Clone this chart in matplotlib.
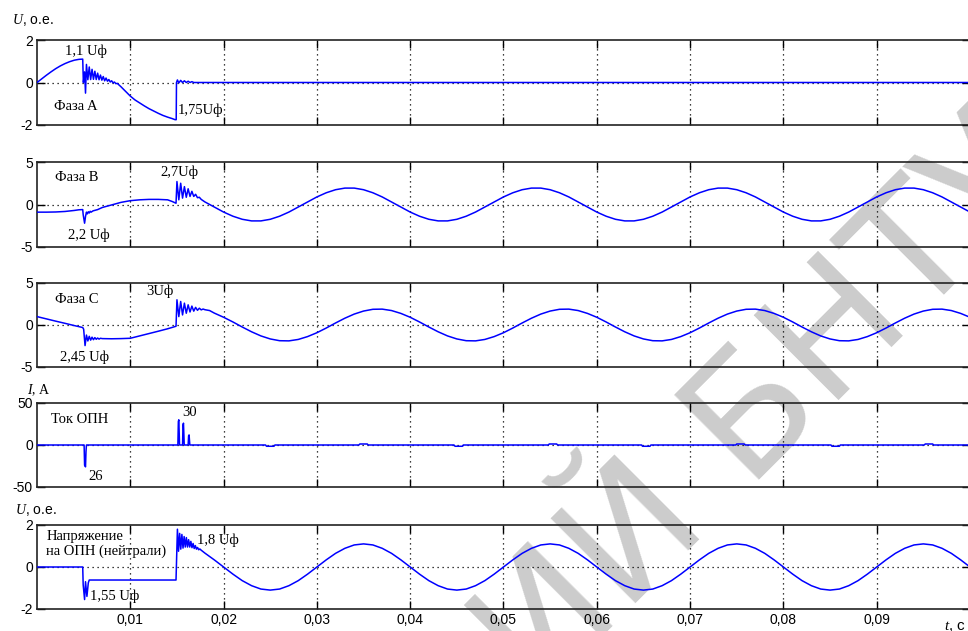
import numpy as np
import matplotlib.pyplot as plt

plt.rcParams['font.family'] = ['Liberation Sans', 'DejaVu Sans']
plt.rcParams['axes.unicode_minus'] = False
plt.rcParams['mathtext.fontset'] = 'custom'
plt.rcParams['mathtext.it'] = 'Liberation Serif:italic'
plt.rcParams['mathtext.rm'] = 'Liberation Serif'

SERIF = ['Liberation Serif', 'DejaVu Serif']
BLUE = '#0000ff'

# --- фаза A: до замыкания, перенапряжение и обрыв ---
A_T = [0, 0.0005, 0.001, 0.0015, 0.002, 0.0025, 0.003, 0.0035, 0.004, 0.0045, 0.0049,
       0.00497, 0.0051, 0.0052,
       0.0053, 0.00545, 0.0056, 0.00575, 0.0059, 0.00605, 0.0062, 0.00635, 0.0065, 0.00665,
       0.0068, 0.00695, 0.0071, 0.00725, 0.0074, 0.00755, 0.0077, 0.00785, 0.008, 0.00815,
       0.0083, 0.00845, 0.0086, 0.00875,
       0.009, 0.0095, 0.010, 0.0105, 0.011, 0.0115, 0.012, 0.0125, 0.013, 0.0135, 0.014,
       0.0145, 0.0148, 0.01492, 0.01495, 0.01505, 0.0152, 0.0154, 0.0156, 0.0158, 0.016,
       0.0162, 0.0164, 0.0166, 0.0168, 0.1]
A_V = [0, 0.17, 0.34, 0.50, 0.65, 0.78, 0.89, 0.98, 1.05, 1.09, 1.1,
       0.0, 0.5, -0.5,
       0.85, 0.13, 0.73, 0.14, 0.62, 0.15, 0.53, 0.14, 0.44, 0.13,
       0.35, 0.11, 0.28, 0.08, 0.21, 0.06, 0.14, 0.025, 0.08, -0.015,
       0.02, -0.055, -0.04, -0.10,
       -0.2, -0.42, -0.64, -0.82, -0.96, -1.1, -1.23, -1.34, -1.45, -1.55, -1.63,
       -1.70, -1.75, -1.75, 0.0, 0.12, -0.02, 0.1, 0.0, 0.08, 0.0,
       0.06, 0.0, 0.04, 0.0, 0.0]

# --- фаза B ---
B_T = [0, 0.001, 0.002, 0.003, 0.004, 0.0045, 0.0049,
       0.00495, 0.0051, 0.0052, 0.0053, 0.0054, 0.0055, 0.0056, 0.0057, 0.0058, 0.006,
       0.0065, 0.007, 0.0075, 0.008, 0.0085, 0.009, 0.0095, 0.010,
       0.011, 0.012, 0.013, 0.014, 0.0145, 0.0149,
       0.0150, 0.0152, 0.0154, 0.0156, 0.0158, 0.0160, 0.0162, 0.0164, 0.0166, 0.0168,
       0.0170, 0.0172, 0.0174, 0.0176, 0.0178, 0.0180, 0.0185]
B_V = [-0.9, -0.9, -0.88, -0.82, -0.7, -0.62, -0.6,
       -1.2, -2.2, -1.4, -0.9, -1.1, -0.85, -1.0, -0.8, -0.9, -0.75,
       -0.6, -0.35, -0.2, -0.05, 0.1, 0.25, 0.35, 0.45,
       0.55, 0.6, 0.6, 0.55, 0.35, 0.15,
       2.7, 0.55, 2.5, 0.75, 2.1, 0.85, 1.85, 0.95, 1.55, 0.95,
       1.2, 0.8, 0.85, 0.6, 0.45, 0.3, 0.0]
# установившийся режим, шаг 1 мс от 0,019 с
B_STEADY = [-0.30, -0.89, -1.38, -1.74, -1.93, -1.93, -1.74, -1.38, -0.89, -0.30,
            0.30, 0.89, 1.38, 1.74, 1.93, 1.93, 1.74, 1.38, 0.89, 0.30,
            -0.30, -0.89, -1.38, -1.74, -1.93, -1.93, -1.74, -1.38, -0.89, -0.30,
            0.30, 0.89, 1.38, 1.74, 1.93, 1.93, 1.74, 1.38, 0.89, 0.30,
            -0.30, -0.89, -1.38, -1.74, -1.93, -1.93, -1.74, -1.38, -0.89, -0.30,
            0.30, 0.89, 1.38, 1.74, 1.93, 1.93, 1.74, 1.38, 0.89, 0.30,
            -0.30, -0.89, -1.38, -1.74, -1.93, -1.93, -1.74, -1.38, -0.89, -0.30,
            0.30, 0.89, 1.38, 1.74, 1.93, 1.93, 1.74, 1.38, 0.89, 0.30,
            -0.30, -0.89]

# --- фаза C ---
C_T = [0, 0.001, 0.002, 0.003, 0.004, 0.0049,
       0.0050, 0.00515, 0.0053, 0.00545, 0.0056, 0.00575, 0.0059, 0.00605, 0.0062, 0.00635,
       0.0065, 0.00665, 0.0068,
       0.007, 0.008, 0.009, 0.010, 0.011, 0.012, 0.013, 0.014, 0.0149,
       0.0150, 0.0152, 0.0154, 0.0156, 0.0158, 0.0160, 0.0162, 0.0164, 0.0166, 0.0168,
       0.0170, 0.0172, 0.0174, 0.0176, 0.0178, 0.0180, 0.0185, 0.019]
C_V = [1.0, 0.73, 0.46, 0.2, -0.07, -0.3,
       -0.5, -2.45, -1.2, -1.9, -1.35, -1.8, -1.45, -1.75, -1.5, -1.7,
       -1.55, -1.68, -1.58,
       -1.62, -1.64, -1.62, -1.58, -1.3, -1.02, -0.74, -0.45, -0.15,
       3.0, 1.0, 2.8, 1.2, 2.6, 1.4, 2.4, 1.55, 2.25, 1.65,
       2.1, 1.75, 2.0, 1.8, 1.9, 1.82, 1.72, 1.42]
# установившийся режим, шаг 1 мс от 0,020 с
C_STEADY = [0.92, 0.36, -0.24, -0.81, -1.30, -1.66, -1.87, -1.89, -1.72, -1.38,
            -0.92, -0.36, 0.24, 0.81, 1.30, 1.66, 1.87, 1.89, 1.72, 1.38,
            0.92, 0.36, -0.24, -0.81, -1.30, -1.66, -1.87, -1.89, -1.72, -1.38,
            -0.92, -0.36, 0.24, 0.81, 1.30, 1.66, 1.87, 1.89, 1.72, 1.38,
            0.92, 0.36, -0.24, -0.81, -1.30, -1.66, -1.87, -1.89, -1.72, -1.38,
            -0.92, -0.36, 0.24, 0.81, 1.30, 1.66, 1.87, 1.89, 1.72, 1.38,
            0.92, 0.36, -0.24, -0.81, -1.30, -1.66, -1.87, -1.89, -1.72, -1.38,
            -0.92, -0.36, 0.24, 0.81, 1.30, 1.66, 1.87, 1.89, 1.72, 1.38,
            0.92]

# --- ток ОПН, А ---
I_T = [0, 0.00505, 0.0051, 0.0052, 0.00525, 0.0053,
       0.0151, 0.01515, 0.0152, 0.01528, 0.0156, 0.01565, 0.0157, 0.01578,
       0.0162, 0.01625, 0.0163, 0.01638,
       0.0245, 0.0246, 0.0254, 0.0255,
       0.0345, 0.0346, 0.0354, 0.0355,
       0.0447, 0.0448, 0.0456, 0.0457,
       0.0548, 0.0549, 0.0557, 0.0558,
       0.0648, 0.0649, 0.0657, 0.0658,
       0.0749, 0.0750, 0.0758, 0.0759,
       0.0851, 0.0852, 0.0860, 0.0861,
       0.0951, 0.0952, 0.0960, 0.0961, 0.1]
I_V = [0, 0, -24, -26, -8, 0,
       0, 28, 30, 0, 0, 24, 26, 0,
       0, 11, 12, 0,
       0, -1.5, -1.5, 0,
       0, 1.2, 1.2, 0,
       0, -1.5, -1.5, 0,
       0, 1.2, 1.2, 0,
       0, -1.5, -1.5, 0,
       0, 1.2, 1.2, 0,
       0, -1.5, -1.5, 0,
       0, 1.2, 1.2, 0, 0]

# --- напряжение на ОПН в нейтрали ---
N_T = [0, 0.0049, 0.00495, 0.0051, 0.0052, 0.00535, 0.0055, 0.0056, 0.0149,
       0.01505, 0.01517, 0.01529, 0.01541, 0.01553, 0.01565, 0.01577, 0.01589, 0.01601,
       0.01613, 0.01625, 0.01637, 0.01649, 0.01661, 0.01673, 0.01685, 0.01697, 0.01709,
       0.01721, 0.01733, 0.01745, 0.0176, 0.018, 0.019]
N_V = [0, 0, -0.85, -1.55, -0.7, -1.4, -0.75, -0.62, -0.62,
       1.8, 0.75, 1.6, 0.85, 1.55, 0.9, 1.45, 0.95, 1.4,
       0.95, 1.3, 0.95, 1.22, 0.92, 1.12, 0.88, 1.02, 0.85,
       0.93, 0.82, 0.86, 0.8, 0.66, 0.34]
N_STEADY = [0, -0.34, -0.65, -0.89, -1.05, -1.1, -1.05, -0.89, -0.65, -0.34,
            0, 0.34, 0.65, 0.89, 1.05, 1.1, 1.05, 0.89, 0.65, 0.34,
            0, -0.34, -0.65, -0.89, -1.05, -1.1, -1.05, -0.89, -0.65, -0.34,
            0, 0.34, 0.65, 0.89, 1.05, 1.1, 1.05, 0.89, 0.65, 0.34,
            0, -0.34, -0.65, -0.89, -1.05, -1.1, -1.05, -0.89, -0.65, -0.34,
            0, 0.34, 0.65, 0.89, 1.05, 1.1, 1.05, 0.89, 0.65, 0.34,
            0, -0.34, -0.65, -0.89, -1.05, -1.1, -1.05, -0.89, -0.65, -0.34,
            0, 0.34, 0.65, 0.89, 1.05, 1.1, 1.05, 0.89, 0.65, 0.34,
            0]

X_TICKS = [0.01, 0.02, 0.03, 0.04, 0.05, 0.06, 0.07, 0.08, 0.09]
X_LABELS = ['0,01', '0,02', '0,03', '0,04', '0,05', '0,06', '0,07', '0,08', '0,09']


def join(t1, v1, t0, v_steady):
    t = np.concatenate([t1, np.linspace(t0, 0.1, len(v_steady))])
    return t, np.concatenate([v1, v_steady])


bt, bv = join(B_T, B_V, 0.019, B_STEADY)
ct, cv = join(C_T, C_V, 0.020, C_STEADY)
nt, nv = join(N_T, N_V, 0.020, N_STEADY)

W, H = 968, 631
fig = plt.figure(figsize=(W / 100, H / 100), dpi=100)

# водяной знак за графиками
fig.text(765 / W, 1 - 410 / H, 'ИЙ БНТУ', fontsize=118,
         color='#cccccc', rotation=45, ha='center', va='center',
         rotation_mode='anchor', family='DejaVu Sans', zorder=-1)

# (верх, низ) каждой панели в пикселях
panels = [(40, 125), (162, 247), (283, 367), (403, 487), (525, 609)]
series = [(A_T, A_V, 2), (bt, bv, 5), (ct, cv, 5), (I_T, I_V, 50), (nt, nv, 2)]

axes = []
for (top, bot), (t, v, lim) in zip(panels, series):
    ax = fig.add_axes([37 / W, 1 - bot / H, 933 / W, (bot - top) / H])
    ax.set_facecolor('none')
    ax.plot(t, v, color=BLUE, lw=1.1, zorder=3)
    ax.set_xlim(0, 0.1)
    ax.set_ylim(-lim, lim)
    ax.set_yticks([-lim, 0, lim])
    ax.set_yticklabels([str(-lim), '0', str(lim)])
    ax.set_xticks(X_TICKS)
    ax.set_xticklabels([])
    ax.grid(axis='x', color='black', linestyle=(0, (1, 3)), lw=0.9)
    ax.axhline(0, color='black', linestyle=(0, (1, 3)), lw=0.9, zorder=1)
    ax.tick_params(direction='in', top=True, right=True, length=6, width=1,
                   labelsize=10, pad=3)
    for sp in ax.spines.values():
        sp.set_color('#222222')
        sp.set_linewidth(1.2)
    axes.append(ax)

axes[-1].set_xticklabels(X_LABELS)


def note(ax, x, y, s):
    ax.text(x, y, s, fontsize=10.5, family=SERIF, ha='left', va='center', zorder=4)


ax1, ax2, ax3, ax4, ax5 = axes
note(ax1, 0.0030, 1.45, '1,1 Uф')
note(ax1, 0.0018, -1.15, 'Фаза A')
note(ax1, 0.0151, -1.3, '1,75Uф')

note(ax2, 0.0019, 3.2, 'Фаза B')
note(ax2, 0.0132, 3.8, '2,7Uф')
note(ax2, 0.0033, -3.6, '2,2 Uф')

note(ax3, 0.0019, 3.0, 'Фаза C')
note(ax3, 0.0117, 4.0, '3Uф')
note(ax3, 0.0025, -3.8, '2,45 Uф')

note(ax4, 0.0015, 29.8, 'Ток ОПН')
note(ax4, 0.0156, 39, '30')
note(ax4, 0.0055, -37.7, '26')

note(ax5, 0.0010, 1.1, 'Напряжение\nна ОПН (нейтрали)')
note(ax5, 0.0171, 1.29, '1,8 Uф')
note(ax5, 0.0057, -1.41, '1,55 Uф')

# подписи осей
fig.text(12 / W, 1 - 20 / H, r'$U$, о.е.', fontsize=10, va='center')
fig.text(27 / W, 1 - 390 / H, r'$I$, А', fontsize=10, va='center', family=SERIF)
fig.text(15 / W, 1 - 510 / H, r'$U$, о.е.', fontsize=10, va='center')
fig.text(944 / W, 1 - 626 / H, r'$t$, с', fontsize=11, va='center')

fig.savefig('out.png', dpi=100)
